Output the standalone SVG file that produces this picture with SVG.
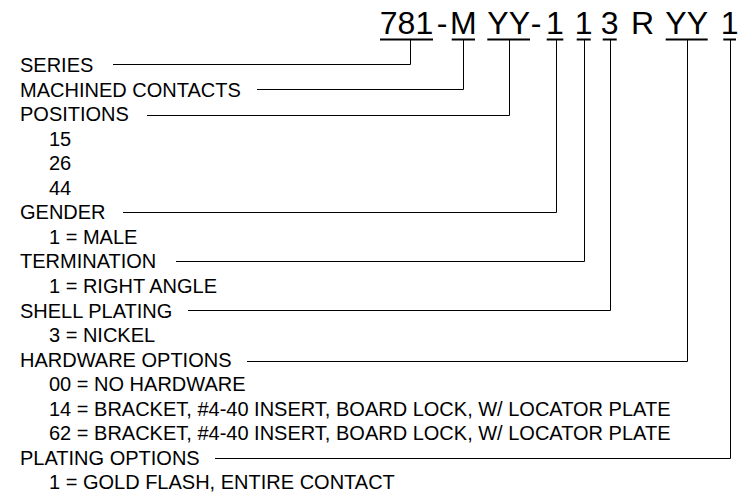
<svg xmlns="http://www.w3.org/2000/svg" width="740" height="495" viewBox="0 0 740 495">
<style>
text{font-family:"Liberation Sans",Arial,sans-serif;fill:#000}
.lbl{font-size:20px}
.pn{font-size:32px}
.pn tspan{text-anchor:middle}
.ul{stroke:#000;stroke-width:2;fill:none}
.con{stroke:#000;stroke-width:1;fill:none}
</style>
<rect width="740" height="495" fill="#fff"/>
<g id="partnumber">
<text class="pn" y="34"><tspan x="406.5">781</tspan><tspan x="442">-</tspan><tspan x="463.4">M</tspan><tspan x="508.7">YY</tspan><tspan x="536">-</tspan><tspan x="555">1</tspan><tspan x="583.7">1</tspan><tspan x="609.7">3</tspan><tspan x="642.5">R</tspan><tspan x="686.7">YY</tspan><tspan x="729.7">1</tspan></text>
<path class="ul" d="M380 39.5H433M451.7 39.5H475M487.3 39.5H530M546.7 39.5H563.3M576.7 39.5H590.7M602.7 39.5H616.7M665.7 39.5H707.7M723.3 39.5H736"/>
</g>
<g id="series"><text class="lbl" x="20" y="72">SERIES</text></g>
<g id="contacts"><text class="lbl" x="20" y="96.5">MACHINED CONTACTS</text></g>
<g id="positions"><text class="lbl" x="20" y="121.1">POSITIONS</text>
<text class="lbl" x="49" y="145.6">15</text>
<text class="lbl" x="49" y="170.2">26</text>
<text class="lbl" x="49" y="194.7">44</text></g>
<g id="gender"><text class="lbl" x="20" y="219.3">GENDER</text>
<text class="lbl" x="49" y="243.8">1 = MALE</text></g>
<g id="termination"><text class="lbl" x="20" y="268.4">TERMINATION</text>
<text class="lbl" x="49" y="292.9">1 = RIGHT ANGLE</text></g>
<g id="shell"><text class="lbl" x="20" y="317.5">SHELL PLATING</text>
<text class="lbl" x="49" y="342">3 = NICKEL</text></g>
<g id="hardware"><text class="lbl" x="20" y="366.6">HARDWARE OPTIONS</text>
<text class="lbl" x="49" y="391.2">00 = NO HARDWARE</text>
<text class="lbl" x="49" y="415.7">14 = BRACKET, #4-40 INSERT, BOARD LOCK, W/ LOCATOR PLATE</text>
<text class="lbl" x="49" y="440.3">62 = BRACKET, #4-40 INSERT, BOARD LOCK, W/ LOCATOR PLATE</text></g>
<g id="plating"><text class="lbl" x="20" y="464.8">PLATING OPTIONS</text>
<text class="lbl" x="49" y="489.4">1 = GOLD FLASH, ENTIRE CONTACT</text></g>
<g id="connectors">
<path class="con" d="M113 64.5H410.5V40"/>
<path class="con" d="M257 89.5H463.5V40"/>
<path class="con" d="M147 115.5H509.5V40"/>
<path class="con" d="M123 212.5H556.5V40"/>
<path class="con" d="M176 261.5H584.5V40"/>
<path class="con" d="M188 310.5H610.5V40"/>
<path class="con" d="M247 361.5H687.5V40"/>
<path class="con" d="M215 458.5H730.5V40"/>
</g>
</svg>
